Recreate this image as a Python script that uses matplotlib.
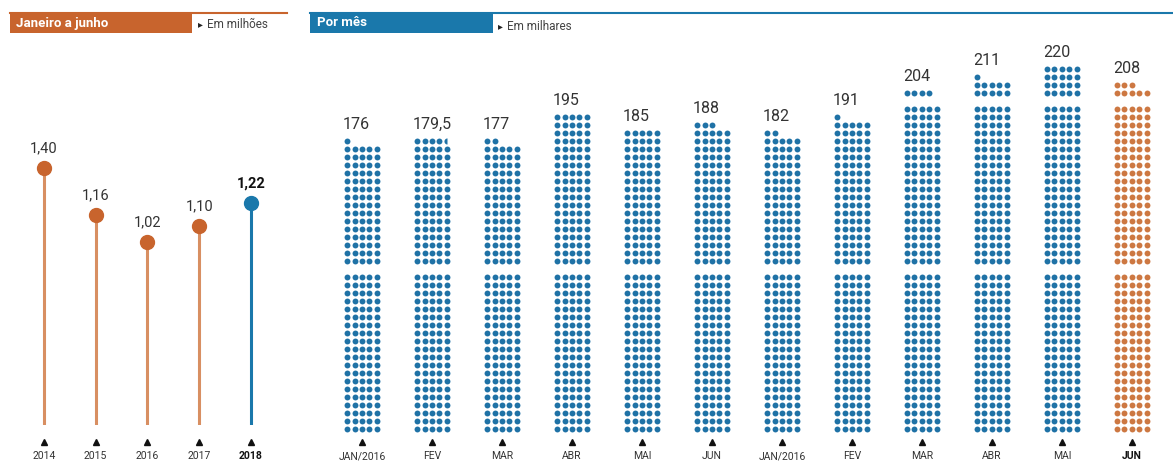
import matplotlib
matplotlib.use('Agg')
import matplotlib.pyplot as plt
from matplotlib.patches import Rectangle
import numpy as np

plt.rcParams['font.family'] = ['Liberation Sans Narrow', 'Roboto', 'DejaVu Sans']

# ── Data ────────────────────────────────────────────────────────────
years = ['2014', '2015', '2016', '2017', '2018']
year_vals = [1.40, 1.16, 1.02, 1.10, 1.22]
year_labels = ['1,40', '1,16', '1,02', '1,10', '1,22']

months = ['JAN/2016', 'FEV', 'MAR', 'ABR', 'MAI', 'JUN',
          'JAN/2016', 'FEV', 'MAR', 'ABR', 'MAI', 'JUN']
month_vals = [176, 179.5, 177, 195, 185, 188, 182, 191, 204, 211, 220, 208]
month_labels = ['176', '179,5', '177', '195', '185', '188',
                '182', '191', '204', '211', '220', '208']

ORANGE = '#c8642d'
ORANGE_STEM = '#d88f62'
BLUE = '#1a78ab'
BLUE_DOT = '#1f72a6'
ORANGE_DOT = '#cd7842'
TXT = '#333333'

W, H = 1173, 463
fig = plt.figure(figsize=(W / 100, H / 100), dpi=100, facecolor='white')


def px_axes(x0, y0, x1, y1):
    """axes from pixel box (top-left origin)"""
    return fig.add_axes([x0 / W, 1 - y1 / H, (x1 - x0) / W, (y1 - y0) / H])


# ── Headers ─────────────────────────────────────────────────────────
hax = px_axes(0, 0, W, H)
hax.set_xlim(0, W)
hax.set_ylim(H, 0)
hax.axis('off')
hax.add_patch(Rectangle((10, 13), 182, 20, color=ORANGE, lw=0))
hax.plot([10, 287], [12.5, 12.5], color=ORANGE, lw=1.5)
hax.text(16, 23, 'Janeiro a junho', color='white', fontsize=9.5,
         fontweight='bold', va='center')
hax.text(198, 24, '▸', color='#222222', fontsize=7, va='center',
         family=['DejaVu Sans'])
hax.text(207, 24, 'Em milhões', color='#444444', fontsize=8.5, va='center')

hax.add_patch(Rectangle((310, 13), 183, 20, color=BLUE, lw=0))
hax.plot([310, W], [12.5, 12.5], color=BLUE, lw=1.5)
hax.text(317, 22, 'Por mês', color='white', fontsize=9.5,
         fontweight='bold', va='center')
hax.text(498, 26, '▸', color='#222222', fontsize=7, va='center',
         family=['DejaVu Sans'])
hax.text(507, 26, 'Em milhares', color='#444444', fontsize=8.5, va='center')

# ── Left: lollipops ─────────────────────────────────────────────────
ax = px_axes(10, 60, 290, 425)
ax.axis('off')
base = 0.08
ax.set_ylim(base, 1.955)
ax.set_xlim(-0.657, 4.754)
for i, (v, lab) in enumerate(zip(year_vals, year_labels)):
    last = i == len(years) - 1
    ax.vlines(i, base, v, color=BLUE if last else ORANGE_STEM, lw=2.2)
    ax.plot(i, v, 'o', ms=10, color=BLUE if last else ORANGE, zorder=3)
    ax.text(i, v + 0.065, lab, ha='center', va='bottom', fontsize=10.5,
            color='#111111' if last else TXT,
            fontweight='bold' if last else 'normal')
    ax.plot(i, base - 0.087, '^', ms=4, color='#111111', clip_on=False)
    ax.text(i, base - 0.159, years[i], ha='center', va='center', fontsize=7.5,
            color='#111111' if last else TXT,
            fontweight='bold' if last else 'normal', clip_on=False)

# ── Right: dot columns (1 dot = 1 mil, 5 per row, gap every 100) ────
bx = px_axes(310, 40, W, 435)
bx.axis('off')
bx.set_xlim(-0.743, 11.586)
bx.set_ylim(-0.75, 48.625)
dx = 0.107
gap = 1.0


def row_y(r):
    return r + gap * (r // 20)


for c, (v, lab) in enumerate(zip(month_vals, month_labels)):
    col = ORANGE_DOT if c == len(months) - 1 else BLUE_DOT
    full = int(v // 5)
    rem = v - 5 * full
    px, py = [], []
    for r in range(full):
        for k in range(5):
            px.append(c + (k - 2) * dx)
            py.append(row_y(r))
    top = row_y(full - 1)
    if rem > 0:
        n = int(rem)
        for k in range(n):
            px.append(c + (k - 2) * dx)
            py.append(row_y(full))
        top = row_y(full)
        if rem - n > 0:
            bx.plot(c + (n - 2) * dx, row_y(full), 'o', ms=4.4, color=col,
                    fillstyle='left', markerfacecoloralt='none', mew=0,
                    clip_on=False)
    bx.scatter(px, py, s=18, color=col, lw=0, clip_on=False)
    last = c == len(months) - 1
    bx.text(c - 2 * dx - 0.06, top + 1.1, lab, ha='left', va='bottom',
            fontsize=11.5, color=TXT)
    bx.plot(c, -1.625, '^', ms=4, color='#111111', clip_on=False)
    bx.text(c, -3.375, months[c], ha='center', va='center', fontsize=7.5,
            color='#111111' if last else TXT,
            fontweight='bold' if last else 'normal', clip_on=False)

fig.savefig('out.png', dpi=100, facecolor='white')
